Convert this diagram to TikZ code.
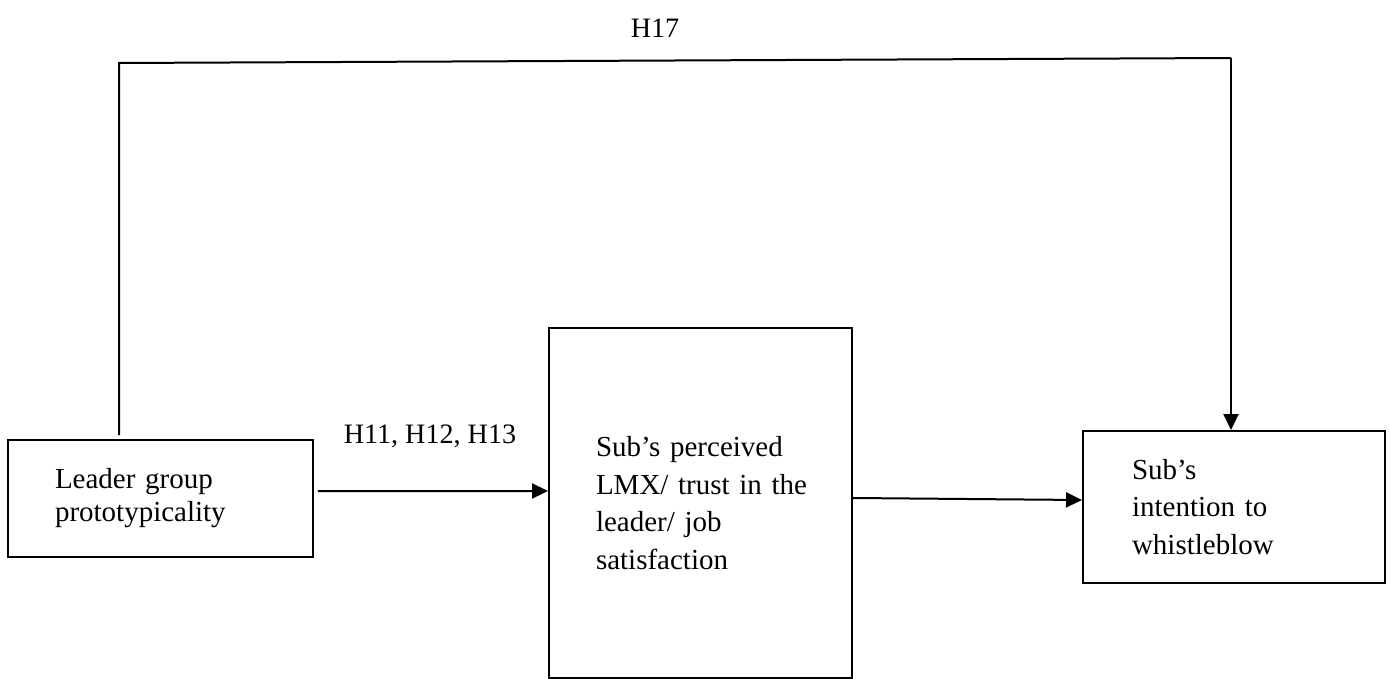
\documentclass[tikz,border=0pt]{standalone}
\usepackage{fontspec}
\setmainfont{Liberation Serif}
\usepackage{tikz}
\usetikzlibrary{arrows.meta}

\tikzset{
  box/.style={draw, line width=0.04cm, align=left, inner ysep=0pt},
  boxtext/.style={font=\fontsize{16.5}{21.4}\selectfont},
  hyp/.style={font=\fontsize{16}{19}\selectfont}
}

\begin{document}
\begin{tikzpicture}[line cap=butt,line join=miter,>={Triangle[length=0.32cm,width=0.3cm]},x=0.02cm,y=-0.02cm]
\useasboundingbox (0,0) rectangle (1390,679);
\node[box, boxtext, font=\fontsize{16.5}{18.8}\selectfont, minimum width=6.1cm, minimum height=2.34cm, inner xsep=0.94cm, text width=4.22cm] (leader) at (160.5,498.5) {Leader group\\prototypicality};
\node[box, boxtext, minimum width=6.06cm, minimum height=7cm, inner xsep=0.94cm, text width=4.18cm] (lmx) at (700.5,503) {Sub’s perceived\\\mbox{LMX/ trust in the}\\leader/ job\\satisfaction\par\vspace{0.64cm}};
\node[box, boxtext, minimum width=6.04cm, minimum height=3.04cm, inner xsep=0.98cm, text width=4.08cm] (whistle) at (1234,507) {Sub’s\\intention to\\whistleblow};
\node[hyp] (h13) at (430,436) {H11, H12, H13};
\node[hyp] (h17) at (655,28) {H17};
\coordinate (tl) at (119,63);
\coordinate (tr) at (1231,58);
\draw[line width=0.04cm, ->, shorten <=0.08cm] ([yshift=0.15cm]leader.east) -- ([yshift=0.24cm]lmx.west);
\draw[line width=0.04cm, ->] ([yshift=0.1cm]lmx.east) -- ([yshift=0.14cm]whistle.west);
\draw[line width=0.04cm, shorten <=0.08cm] (tl |- leader.north) -- (tl) -- (tr);
\draw[line width=0.04cm, ->] (tr) -- (whistle.north -| tr);
\end{tikzpicture}
\end{document}
